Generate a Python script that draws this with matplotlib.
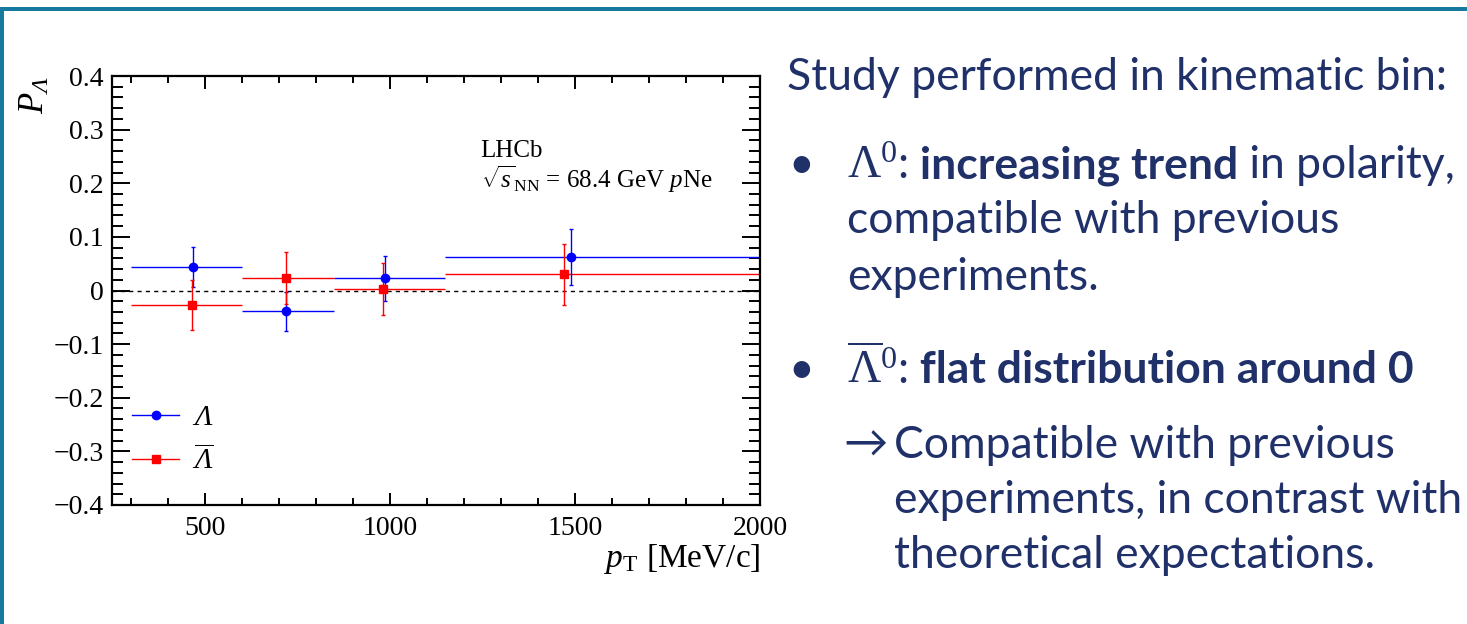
import matplotlib

matplotlib.use("Agg")
import matplotlib.pyplot as plt  # noqa: E402
from matplotlib.lines import Line2D  # noqa: E402
from matplotlib.patches import Rectangle  # noqa: E402
from matplotlib.ticker import FuncFormatter, MultipleLocator  # noqa: E402
from matplotlib.transforms import IdentityTransform  # noqa: E402

# pT bins [MeV/c]
BIN_LO = [300, 600, 850, 1150]
BIN_HI = [600, 850, 1150, 2000]

# Lambda polarisation
LAM_PT = [468, 721, 986, 1489]
LAM_P = [0.044, -0.039, 0.023, 0.063]
LAM_ERR = [0.037, 0.037, 0.042, 0.052]

# anti-Lambda polarisation
ALAM_PT = [466, 721, 983, 1470]
ALAM_P = [-0.027, 0.023, 0.003, 0.030]
ALAM_ERR = [0.046, 0.048, 0.049, 0.057]

W, H = 1467, 624
NAVY = "#203069"
TEAL = "#18799f"
SANS = ["Lato", "DejaVu Sans"]

plt.rcParams["font.family"] = "Liberation Serif"
plt.rcParams["mathtext.fontset"] = "custom"
plt.rcParams["mathtext.rm"] = "Liberation Serif:italic"
plt.rcParams["mathtext.it"] = "Liberation Serif:italic"
plt.rcParams["mathtext.sf"] = "Liberation Serif"
plt.rcParams["mathtext.bf"] = "Liberation Serif:bold"


def fmt_y(v, _):
    if abs(v) < 1e-9:
        return "0"
    return f"{v:.1f}".replace("-", "\u2212")


def main():
    fig = plt.figure(figsize=(W / 100, H / 100), dpi=100)
    ax = fig.add_axes([112 / W, 1 - 505 / H, 648 / W, 429 / H])

    def xerr(pts):
        return [[p - lo for p, lo in zip(pts, BIN_LO)],
                [hi - p for p, hi in zip(pts, BIN_HI)]]

    ax.axhline(0, color="black", lw=1, ls=(0, (3, 3)), zorder=1)
    for pts, vals, errs, color, marker, ms in [
        (LAM_PT, LAM_P, LAM_ERR, "blue", "o", 6),
        (ALAM_PT, ALAM_P, ALAM_ERR, "red", "s", 5.5),
    ]:
        ax.errorbar(pts, vals, xerr=xerr(pts), fmt="none", ecolor=color,
                    elinewidth=1, capsize=0, zorder=2)
        ax.errorbar(pts, vals, yerr=errs, fmt=marker, color=color, ms=ms,
                    elinewidth=1, capsize=1.5, zorder=3)

    ax.set_xlim(250, 2000)
    ax.set_ylim(-0.4, 0.4)
    ax.xaxis.set_major_locator(MultipleLocator(500))
    ax.xaxis.set_minor_locator(MultipleLocator(100))
    ax.yaxis.set_major_locator(MultipleLocator(0.1))
    ax.yaxis.set_minor_locator(MultipleLocator(0.02))
    ax.yaxis.set_major_formatter(FuncFormatter(fmt_y))
    for s in ax.spines.values():
        s.set_linewidth(1.6)
    ax.tick_params(which="both", direction="in", top=True, right=True, width=1.4)
    ax.tick_params(axis="y", which="major", length=13, labelsize=20, pad=6)
    ax.tick_params(axis="y", which="minor", length=8)
    ax.tick_params(axis="x", which="major", length=9, labelsize=20, pad=8)
    ax.tick_params(axis="x", which="minor", length=5)

    ax.set_xlabel(r"$p_{\mathsf{T}}$ [MeV/c]", fontsize=24, loc="right", labelpad=1)
    ax.set_ylabel(r"$P_{\Lambda}$", fontsize=25, loc="top", labelpad=1)

    ax.text(0.569, 0.811, "LHCb", transform=ax.transAxes, fontsize=18)
    ax.text(0.569, 0.740, r"$\sqrt{s}_{\mathsf{NN}}$ = 68.4 GeV $p$Ne",
            transform=ax.transAxes, fontsize=18)

    handles = [Line2D([], [], color="blue", marker="o", ms=6, lw=1),
               Line2D([], [], color="red", marker="s", ms=5.5, lw=1)]
    ax.legend(handles, [r"$\Lambda$", r"$\overline{\Lambda}$"], loc="center left",
              bbox_to_anchor=(0.0, 0.152), frameon=False, fontsize=21,
              handlelength=1.6, handletextpad=0.45, labelspacing=0.5,
              borderpad=0.2)

    # slide frame
    fig.add_artist(Rectangle((0, 1 - 11 / H), 1, 4 / H, transform=fig.transFigure,
                             color=TEAL, lw=0))
    fig.add_artist(Rectangle((0, 0), 4 / W, 1 - 7 / H, transform=fig.transFigure,
                             color=TEAL, lw=0))

    renderer = fig.canvas.get_renderer()

    def write_line(x, y, parts, size=32):
        for text, weight in parts:
            math = text.startswith("$")
            t = fig.text(x, H - y, text, transform=IdentityTransform(),
                         fontsize=33 if math else size, fontweight=weight,
                         family=SANS, color=NAVY, va="baseline", ha="left")
            x = t.get_window_extent(renderer).x1

    write_line(787, 90, [("Study performed in kinematic bin:", "normal")])
    write_line(788, 178, [("\u2022", "normal")])
    write_line(847, 178, [(r"$\mathsf{\Lambda}^{\mathsf{0}}$", "normal"),
                          (":", "normal"), (" increasing trend", "bold"),
                          (" in polarity,", "normal")])
    write_line(847, 233, [("compatible with previous", "normal")])
    write_line(847, 290, [("experiments.", "normal")])
    write_line(788, 383, [("\u2022", "normal")])
    write_line(847, 383, [(r"$\overline{\mathsf{\Lambda}}^{\mathsf{0}}$", "normal"),
                          (":", "normal"), (" flat distribution around 0", "bold")])
    write_line(843, 458, [("\u2192", "normal")])
    write_line(894, 458, [("Compatible with previous", "normal")])
    write_line(894, 513, [("experiments, in contrast with", "normal")])
    write_line(894, 568, [("theoretical expectations.", "normal")])

    fig.savefig("out.png", dpi=100)
    plt.close(fig)


if __name__ == "__main__":
    main()
